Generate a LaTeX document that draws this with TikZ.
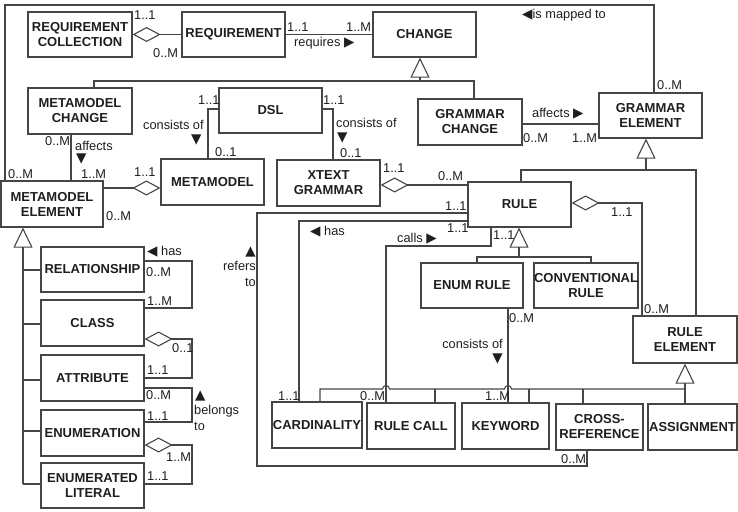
\documentclass[tikz,border=0pt]{standalone}
\usepackage{fontspec}
\setmainfont{Liberation Sans}
\newfontfamily\symf{DejaVu Sans}
\newcommand{\sym}{\symf\fontsize{13.5}{14}\selectfont}
\usetikzlibrary{arrows.meta}
\definecolor{ln}{HTML}{454545}
\definecolor{tx}{HTML}{1E1E1E}
\begin{document}
\begin{tikzpicture}[x=1pt,y=-1pt,
  box/.style={draw=ln,line width=1.2pt,text=tx,font=\bfseries\fontsize{13}{15}\selectfont,align=center,inner sep=0pt},
  lbl/.style={text=tx,font=\fontsize{12.8}{13}\selectfont,inner sep=0pt,text height=9.2pt,text depth=0pt,anchor=west},
  con/.style={draw=ln,line width=1.1pt},
  agg/.style={con,{Diamond[open,length=28pt,width=15pt]}-},
  aggr/.style={con,-{Diamond[open,length=28pt,width=15pt]}},
  gen/.style={con,-{Triangle[open,length=20pt,width=19pt]}}]
\useasboundingbox (0,0) rectangle (738,511);
% boxes
\node[box,minimum width=104pt,minimum height=45pt] (rc) at (80,34.5) {REQUIREMENT\\COLLECTION};
\node[box,minimum width=103pt,minimum height=45pt] (req) at (233.5,34.5) {REQUIREMENT};
\node[box,minimum width=103pt,minimum height=45pt] (chg) at (424.5,34.5) {CHANGE};
\node[box,minimum width=104pt,minimum height=46pt] (mmc) at (80,111) {METAMODEL\\CHANGE};
\node[box,minimum width=103pt,minimum height=45pt] (dsl) at (270.5,110.5) {DSL};
\node[box,minimum width=104pt,minimum height=46pt] (gc) at (470,122) {GRAMMAR\\CHANGE};
\node[box,minimum width=103pt,minimum height=45pt] (ge) at (650.5,115.5) {GRAMMAR\\ELEMENT};
\node[box,minimum width=102pt,minimum height=46pt] (mme) at (52,204) {METAMODEL\\ELEMENT};
\node[box,minimum width=103pt,minimum height=46pt] (mm) at (212.5,182) {METAMODEL};
\node[box,minimum width=103pt,minimum height=46pt] (xg) at (328.5,183) {XTEXT\\GRAMMAR};
\node[box,minimum width=103pt,minimum height=45pt] (rule) at (519.5,204.5) {RULE};
\node[box,minimum width=102pt,minimum height=45pt] (er) at (472,285.5) {ENUM RULE};
\node[box,minimum width=104pt,minimum height=45pt] (cr) at (586,285.5) {CONVENTIONAL\\RULE};
\node[box,minimum width=104pt,minimum height=47pt] (re) at (685,339.5) {RULE\\ELEMENT};
\node[box,minimum width=103pt,minimum height=45pt] (rel) at (92.5,269.5) {RELATIONSHIP};
\node[box,minimum width=103pt,minimum height=46pt] (cls) at (92.5,323) {CLASS};
\node[box,minimum width=103pt,minimum height=46pt] (att) at (92.5,378) {ATTRIBUTE};
\node[box,minimum width=103pt,minimum height=46pt] (enu) at (92.5,433) {ENUMERATION};
\node[box,minimum width=103pt,minimum height=45pt] (el) at (92.5,485.5) {ENUMERATED\\LITERAL};
\node[box,minimum width=90pt,minimum height=46pt] (card) at (317,425) {CARDINALITY};
\node[box,minimum width=88pt,minimum height=46pt] (rcall) at (411,426) {RULE CALL};
\node[box,minimum width=87pt,minimum height=46pt] (kw) at (505.5,426) {KEYWORD};
\node[box,minimum width=87pt,minimum height=46pt] (xref) at (599.5,427) {CROSS-\\REFERENCE};
\node[box,minimum width=89pt,minimum height=46pt] (asg) at (692.5,427) {ASSIGNMENT};
% connectors top
\draw[agg] (rc.east) -- (req.west);
\draw[con] (req.east) -- (chg.west);
\draw[gen] (420,81) -- (chg.south -| 420,0);
\draw[con] (mmc.north -| 94,0) |- (474,81) -- (gc.north -| 474,0);
\draw[con] (mmc.south -| 71,0) -- (mme.north -| 71,0);
\draw[con] (dsl.west |- 0,109) -| (mm.north -| 208,0);
\draw[con] (dsl.east |- 0,109) -| (xg.north -| 333,0);
\draw[aggr] (mme.east |- 0,188) -- (mm.west |- 0,188);
\draw[con] (mme.north -| 5,0) |- (654,5) -- (ge.north -| 654,0);
\draw[con] (gc.east |- 0,124) -- (ge.west |- 0,124);
\draw[gen] (646,170) -- (ge.south -| 646,0);
\draw[con] (rule.north -| 521,0) |- (696,170) -- (re.north -| 696,0);
\draw[agg] (xg.east |- 0,185) -- (rule.west |- 0,185);
\draw[agg] (rule.east |- 0,203) -| (re.north -| 642,0);
\draw[con] (rule.west |- 0,213) -| (257,466) -| (xref.south -| 587,0);
\draw[con] (rule.west |- 0,221) -| (card.north -| 299,0);
\draw[con] (rule.south -| 491,0) |- (386,246) -- (rcall.north -| 386,0);
\draw[gen] (519,257) -- (rule.south -| 519,0);
\draw[con] (er.north -| 477,0) |- (591,257) -- (cr.north -| 591,0);
\draw[con] (er.south -| 508,0) -- (kw.north -| 508,0);
\draw[gen] (asg.north -| 685,0) -- (re.south);
\draw[con] (card.north -| 320,0) -- (320,389) -- (382.5,389) .. controls (382.5,384.5) and (389.5,384.5) .. (389.5,389) -- (504.5,389) .. controls (504.5,384.5) and (511.5,384.5) .. (511.5,389) -- (685,389);
\draw[con] (435,389) -- (rcall.north -| 435,0);
\draw[con] (529,389) -- (kw.north -| 529,0);
\draw[con] (583,389) -- (xref.north -| 583,0);
% left column
\draw[gen] (23,484) -- (mme.south -| 23,0);
\draw[con] (23,270) -- (rel.west |- 0,270);
\draw[con] (23,324) -- (cls.west |- 0,324);
\draw[con] (23,380) -- (att.west |- 0,380);
\draw[con] (23,431) -- (enu.west |- 0,431);
\draw[con] (23,484) -- (el.west |- 0,484);
\draw[con] (rel.east |- 0,261) -| (192,308) -- (cls.east |- 0,308);
\draw[agg] (cls.east |- 0,339) -| (192,378) -- (att.east |- 0,378);
\draw[con] (att.east |- 0,388) -| (192,422) -- (enu.east |- 0,422);
\draw[agg] (enu.east |- 0,445) -| (192,484) -- (el.east |- 0,484);
% labels
\node[lbl] (t1) at (134,15) {1..1};
\node[lbl] (t2) at (153,53) {0..M};
\node[lbl] (t3) at (287,26.5) {1..1};
\node[lbl] (t4) at (346,26.5) {1..M};
\node[lbl] (t5) at (294,42) {requires {\sym ▶}};
\node[lbl] (t6) at (522,14) {{\sym ◀}is mapped to};
\node[lbl] (t7) at (657,85) {0..M};
\node[lbl] (t8) at (8,173.5) {0..M};
\node[lbl] (t9) at (45,141) {0..M};
\node[lbl] (t10) at (75,145.5) {affects};
\node[lbl] (t11) at (76,158) {\sym ▼};
\node[lbl] (t12) at (81,173.5) {1..M};
\node[lbl] (t13) at (134,172) {1..1};
\node[lbl] (t14) at (106,216) {0..M};
\node[lbl] (t15) at (198,99.5) {1..1};
\node[lbl] (t16) at (143,125) {consists of};
\node[lbl] (t17) at (191,139) {\sym ▼};
\node[lbl] (t18) at (215,152) {0..1};
\node[lbl] (t19) at (323,99.5) {1..1};
\node[lbl] (t20) at (336,123) {consists of};
\node[lbl] (t21) at (337,136.5) {\sym ▼};
\node[lbl] (t22) at (340,152.5) {0..1};
\node[lbl] (t23) at (532,113) {affects {\sym ▶}};
\node[lbl] (t24) at (523,137.5) {0..M};
\node[lbl] (t25) at (572,137.5) {1..M};
\node[lbl] (t26) at (383,168) {1..1};
\node[lbl] (t27) at (438,176) {0..M};
\node[lbl] (t28) at (445,206) {1..1};
\node[lbl] (t29) at (447,228) {1..1};
\node[lbl] (t30) at (493,235) {1..1};
\node[lbl] (t31) at (611,212) {1..1};
\node[lbl] (t32) at (644,309) {0..M};
\node[lbl] (t33) at (509,318) {0..M};
\node[lbl] (t34) at (310,231) {{\sym ◀} has};
\node[lbl] (t35) at (397,237.5) {calls {\sym ▶}};
\node[lbl,anchor=east] (t36) at (256,251) {\sym ▲};
\node[lbl,anchor=east] (t37) at (256,265.5) {refers};
\node[lbl,anchor=east] (t38) at (256,282) {to};
\node[lbl,anchor=east] (t39) at (503,343.5) {consists of};
\node[lbl,anchor=east] (t40) at (503,358) {\sym ▼};
\node[lbl] (t41) at (278,395.5) {1..1};
\node[lbl] (t42) at (360,395.5) {0..M};
\node[lbl] (t43) at (485,396) {1..M};
\node[lbl] (t44) at (561,458.5) {0..M};
\node[lbl] (t45) at (147,251) {{\sym ◀} has};
\node[lbl] (t46) at (146,271.5) {0..M};
\node[lbl] (t47) at (147,301) {1..M};
\node[lbl] (t48) at (172,348) {0..1};
\node[lbl] (t49) at (147,370) {1..1};
\node[lbl] (t50) at (146,395) {0..M};
\node[lbl] (t51) at (147,416) {1..1};
\node[lbl] (t52) at (195,395) {\sym ▲};
\node[lbl] (t53) at (194,409.5) {belongs};
\node[lbl] (t54) at (194,425.5) {to};
\node[lbl] (t55) at (166,457) {1..M};
\node[lbl] (t56) at (147,476) {1..1};
\end{tikzpicture}
\end{document}
